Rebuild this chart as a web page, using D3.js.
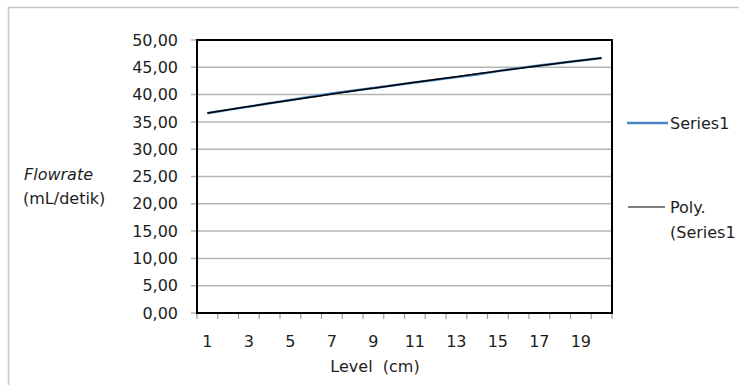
<!DOCTYPE html>
<html>
<head>
<meta charset="utf-8">
<script src="https://cdn.jsdelivr.net/npm/d3@7"></script>
<style>
  body { margin: 0; background: #fff; }
  text { font-family: "DejaVu Sans", "Noto Sans", sans-serif; fill: #1e1e1e; }
</style>
</head>
<body>
<div id="chart"></div>
<script>
// chart data
var levels = [1,2,3,4,5,6,7,8,9,10,11,12,13,14,15,16,17,18,19,20];
var flowrate = [36.6,37.2,37.8,38.4,39.0,39.6,40.2,40.7,41.2,41.7,
                42.2,42.7,43.2,43.7,44.3,44.85,45.35,45.8,46.25,46.7];
var yTicks = [0,5,10,15,20,25,30,35,40,45,50];
var xLabels = [1,3,5,7,9,11,13,15,17,19];
var legendNames = ["Series1", "Poly.", "(Series1"];

var W = 739, H = 385;
var plot = {left: 197, top: 40, right: 612, bottom: 313};

var svg = d3.select("#chart").append("svg")
    .attr("width", W)
    .attr("height", H);

// outer chart border (runs off the right and bottom)
svg.append("rect")
    .attr("x", 8.5).attr("y", 7.5)
    .attr("width", W + 10).attr("height", H + 10)
    .attr("fill", "none")
    .attr("stroke", "#c8c8c8")
    .attr("stroke-width", 1.5);

var x = d3.scaleBand()
    .domain(levels)
    .range([plot.left, plot.right]);

var y = d3.scaleLinear()
    .domain([0, 50])
    .range([plot.bottom, plot.top]);

// gridlines
svg.append("g")
  .selectAll("line")
  .data(yTicks)
  .enter().append("line")
    .attr("x1", plot.left - 6).attr("x2", plot.right)
    .attr("y1", function(d) { return y(d); })
    .attr("y2", function(d) { return y(d); })
    .attr("stroke", "#b4b4b4")
    .attr("stroke-width", 1.5);

// y axis labels
var yAxis = d3.axisLeft(y)
    .tickValues(yTicks)
    .tickSize(0)
    .tickPadding(19)
    .tickFormat(function(d) { return d3.format(".2f")(d).replace(".", ","); });
var gy = svg.append("g")
    .attr("transform", "translate(" + plot.left + ",0)")
    .call(yAxis);
gy.select(".domain").remove();
gy.selectAll("text")
    .style("font-size", "16px")
    .style("font-family", "'DejaVu Sans', sans-serif")
    .attr("fill", "#1e1e1e");

// x axis: ticks at category boundaries, labels on odd categories
var bounds = levels.map(function(d) { return x(d); }).concat([plot.right]);
svg.append("g")
  .selectAll("line")
  .data(bounds)
  .enter().append("line")
    .attr("x1", function(d) { return d; })
    .attr("x2", function(d) { return d; })
    .attr("y1", plot.bottom).attr("y2", plot.bottom + 6)
    .attr("stroke", "#9a9a9a")
    .attr("stroke-width", 1.2);

svg.append("g")
  .selectAll("text")
  .data(xLabels)
  .enter().append("text")
    .attr("x", function(d) { return x(d) + x.bandwidth() / 2; })
    .attr("y", 347)
    .attr("text-anchor", "middle")
    .style("font-size", "16px")
    .text(function(d) { return d; });

// plot area frame
svg.append("rect")
    .attr("x", plot.left).attr("y", plot.top)
    .attr("width", plot.right - plot.left)
    .attr("height", plot.bottom - plot.top)
    .attr("fill", "none")
    .attr("stroke", "#000")
    .attr("stroke-width", 2);

// series line
var pts = levels.map(function(d, i) { return [d, flowrate[i]]; });
var line = d3.line()
    .x(function(d) { return x(d[0]) + x.bandwidth() / 2; })
    .y(function(d) { return y(d[1]); });

svg.append("path")
    .datum(pts)
    .attr("d", line)
    .attr("fill", "none")
    .attr("stroke", "#4a86c8")
    .attr("stroke-width", 2.5);

// order-2 polynomial trendline (least squares)
function polyFit(xs, ys) {
  var s = [0,0,0,0,0], t = [0,0,0];
  xs.forEach(function(xv, i) {
    var p = 1;
    for (var k = 0; k < 5; k++) { s[k] += p; if (k < 3) t[k] += p * ys[i]; p *= xv; }
  });
  var A = [[s[0],s[1],s[2],t[0]],[s[1],s[2],s[3],t[1]],[s[2],s[3],s[4],t[2]]];
  for (var c = 0; c < 3; c++) {
    for (var r = c + 1; r < 3; r++) {
      var f = A[r][c] / A[c][c];
      for (var k = c; k < 4; k++) A[r][k] -= f * A[c][k];
    }
  }
  var b = [0,0,0];
  for (var r = 2; r >= 0; r--) {
    var v = A[r][3];
    for (var k = r + 1; k < 3; k++) v -= A[r][k] * b[k];
    b[r] = v / A[r][r];
  }
  return b;
}
var coef = polyFit(levels, flowrate);
var trend = levels.map(function(d) { return [d, coef[0] + coef[1]*d + coef[2]*d*d]; });
svg.append("path")
    .datum(trend)
    .attr("d", line.curve(d3.curveMonotoneX))
    .attr("fill", "none")
    .attr("stroke", "#000")
    .attr("stroke-width", 1.5);

// y title
svg.append("text")
    .attr("x", 24).attr("y", 180)
    .style("font-size", "16px")
    .style("font-style", "italic")
    .text("Flowrate");
svg.append("text")
    .attr("x", 23).attr("y", 204)
    .style("font-size", "16px")
    .text("(mL/detik)");

// x title
svg.append("text")
    .attr("x", 375).attr("y", 372)
    .attr("text-anchor", "middle")
    .style("font-size", "16px")
    .style("white-space", "pre")
    .text("Level  (cm)");

// legend
svg.append("line")
    .attr("x1", 627).attr("x2", 668)
    .attr("y1", 123).attr("y2", 123)
    .attr("stroke", "#4a86c8").attr("stroke-width", 2.5);
svg.append("text")
    .attr("x", 670).attr("y", 129)
    .style("font-size", "16px")
    .text(legendNames[0]);

svg.append("line")
    .attr("x1", 628).attr("x2", 665)
    .attr("y1", 207).attr("y2", 207)
    .attr("stroke", "#000").attr("stroke-width", 1);
svg.append("text")
    .attr("x", 670).attr("y", 213)
    .style("font-size", "16px")
    .text(legendNames[1]);
svg.append("text")
    .attr("x", 670).attr("y", 238)
    .style("font-size", "16px")
    .text(legendNames[2]);
</script>
</body>
</html>
